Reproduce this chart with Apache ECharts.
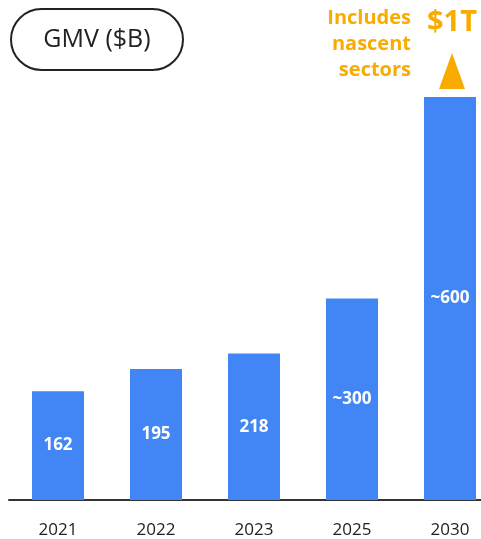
<!DOCTYPE html>
<html>
<head>
<meta charset="utf-8">
<script src="https://cdn.jsdelivr.net/npm/echarts@6/dist/echarts.min.js"></script>
<style>html,body{margin:0;padding:0;background:#fff;overflow:hidden;width:481px;height:539px}#c{width:499px;height:539px}</style>
</head>
<body>
<div id="c"></div>
<script>
const categories = ['2021', '2022', '2023', '2025', '2030'];
const values = [162, 195, 218, 300, 600];
const valueLabels = ['162', '195', '218', '~300', '~600'];
const titleText = 'GMV ($B)';
const noteLines = ['Includes', 'nascent', 'sectors'];
const targetText = '$1T';

const FONT = '"Open Sans", Roboto, sans-serif';
const chart = echarts.init(document.getElementById('c'), null, {renderer: 'canvas'});
chart.setOption({
  animation: false,
  grid: {left: 9, right: 0, top: 97, bottom: 39, containLabel: false},
  xAxis: {
    type: 'category',
    data: categories,
    axisLine: {lineStyle: {color: '#333', width: 2}},
    axisTick: {show: false},
    axisLabel: {color: '#222', fontSize: 17, fontFamily: FONT, margin: 22}
  },
  yAxis: {type: 'value', min: 0, max: 600, show: false, splitLine: {show: false}},
  series: [{
    type: 'bar',
    data: values,
    barWidth: 52,
    itemStyle: {color: '#4285F4'},
    label: {
      show: true,
      position: 'inside',
      color: '#fff',
      fontSize: 17,
      fontWeight: 'bold',
      fontFamily: FONT,
      formatter: p => valueLabels[p.dataIndex]
    }
  }],
  graphic: [
    {type: 'rect', shape: {x: 11, y: 9, width: 172, height: 61, r: 30.5},
     style: {fill: '#fff', stroke: '#222', lineWidth: 2}},
    {type: 'text', x: 97, y: 40,
     style: {text: titleText, fill: '#222', font: '25px ' + FONT, textAlign: 'center', textVerticalAlign: 'middle'}},
    {type: 'text', x: 411, y: 18,
     style: {text: noteLines[0], fill: '#F9AB00', font: 'bold 20px ' + FONT, textAlign: 'right', textVerticalAlign: 'middle'}},
    {type: 'text', x: 411, y: 44,
     style: {text: noteLines[1], fill: '#F9AB00', font: 'bold 20px ' + FONT, textAlign: 'right', textVerticalAlign: 'middle'}},
    {type: 'text', x: 411, y: 70,
     style: {text: noteLines[2], fill: '#F9AB00', font: 'bold 20px ' + FONT, textAlign: 'right', textVerticalAlign: 'middle'}},
    {type: 'text', x: 452, y: 23,
     style: {text: targetText, fill: '#F9AB00', font: 'bold 29px ' + FONT, textAlign: 'center', textVerticalAlign: 'middle'}},
    {type: 'polygon', shape: {points: [[452, 53], [465, 89], [439, 89]]}, style: {fill: '#F9AB00'}}
  ]
});
</script>
</body>
</html>
